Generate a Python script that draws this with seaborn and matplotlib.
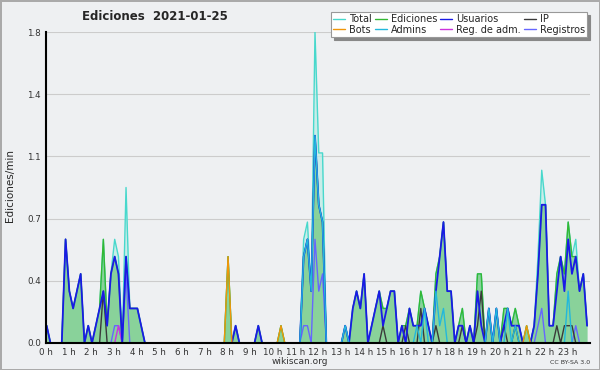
import numpy as np
import pandas as pd
import matplotlib
matplotlib.use("Agg")
import matplotlib.pyplot as plt
import seaborn as sns
from matplotlib.lines import Line2D
from matplotlib.ticker import FixedLocator, MultipleLocator, AutoMinorLocator

# ---------------------------------------------------------------
# Edits per minute, 10-minute bins (24 bins = 4 hours per row)
# ---------------------------------------------------------------
total = [
    0.1, 0, 0, 0, 0, 0.6, 0.3, 0.2, 0.3, 0.4, 0, 0.1, 0, 0.1, 0.2, 0.6, 0.1, 0.4, 0.6, 0.5, 0, 0.9, 0.2, 0.2,
    0.2, 0.1, 0, 0, 0, 0, 0, 0, 0, 0, 0, 0, 0, 0, 0, 0, 0, 0, 0, 0, 0, 0, 0, 0,
    0.5, 0, 0.1, 0, 0, 0, 0, 0, 0.1, 0, 0, 0, 0, 0, 0.1, 0, 0, 0, 0, 0, 0.6, 0.7, 0.3, 1.8,
    1.1, 1.1, 0, 0, 0, 0, 0, 0.1, 0, 0.2, 0.3, 0.2, 0.4, 0, 0.1, 0.2, 0.3, 0.2, 0.2, 0.3, 0.3, 0, 0.1, 0.1,
    0.2, 0.1, 0.1, 0.3, 0.2, 0.1, 0, 0.4, 0.5, 0.7, 0.3, 0.3, 0, 0.1, 0.2, 0, 0.1, 0, 0.4, 0.4, 0, 0.2, 0, 0.2,
    0, 0.2, 0.2, 0.1, 0.2, 0.1, 0, 0.1, 0, 0.1, 0.5, 1.0, 0.8, 0.1, 0.1, 0.4, 0.5, 0.4, 0.7, 0.5, 0.6, 0.3, 0.4, 0.1,
]
ediciones = [
    0.1, 0, 0, 0, 0, 0.6, 0.3, 0.2, 0.3, 0.4, 0, 0.1, 0, 0.1, 0.2, 0.6, 0.1, 0.4, 0.5, 0.4, 0, 0.5, 0.2, 0.2,
    0.2, 0.1, 0, 0, 0, 0, 0, 0, 0, 0, 0, 0, 0, 0, 0, 0, 0, 0, 0, 0, 0, 0, 0, 0,
    0.5, 0, 0.1, 0, 0, 0, 0, 0, 0.1, 0, 0, 0, 0, 0, 0.1, 0, 0, 0, 0, 0, 0.5, 0.6, 0.3, 1.2,
    0.8, 0.7, 0, 0, 0, 0, 0, 0.1, 0, 0.2, 0.3, 0.2, 0.4, 0, 0.1, 0.2, 0.3, 0.2, 0.2, 0.3, 0.3, 0, 0.1, 0.1,
    0.2, 0.1, 0.1, 0.3, 0.2, 0.1, 0, 0.4, 0.5, 0.7, 0.3, 0.3, 0, 0.1, 0.2, 0, 0.1, 0, 0.4, 0.4, 0, 0.2, 0, 0.2,
    0, 0.2, 0.2, 0.1, 0.2, 0.1, 0, 0.1, 0, 0.1, 0.4, 0.8, 0.8, 0.1, 0.1, 0.4, 0.5, 0.4, 0.7, 0.5, 0.5, 0.3, 0.4, 0.1,
]
usuarios = [
    0.1, 0, 0, 0, 0, 0.6, 0.3, 0.2, 0.3, 0.4, 0, 0.1, 0, 0.1, 0.2, 0.3, 0.1, 0.4, 0.5, 0.4, 0, 0.5, 0.2, 0.2,
    0.2, 0.1, 0, 0, 0, 0, 0, 0, 0, 0, 0, 0, 0, 0, 0, 0, 0, 0, 0, 0, 0, 0, 0, 0,
    0, 0, 0.1, 0, 0, 0, 0, 0, 0.1, 0, 0, 0, 0, 0, 0, 0, 0, 0, 0, 0, 0.5, 0.6, 0.3, 1.2,
    0.8, 0.7, 0, 0, 0, 0, 0, 0.1, 0, 0.2, 0.3, 0.2, 0.4, 0, 0.1, 0.2, 0.3, 0.1, 0.2, 0.3, 0.3, 0, 0.1, 0,
    0.2, 0.1, 0.1, 0.1, 0.2, 0.1, 0, 0.3, 0.5, 0.7, 0.3, 0.3, 0, 0.1, 0.1, 0, 0.1, 0, 0.3, 0.1, 0, 0.2, 0, 0.2,
    0, 0.1, 0.2, 0.1, 0.1, 0.1, 0, 0, 0, 0.1, 0.4, 0.8, 0.8, 0.1, 0.1, 0.3, 0.5, 0.3, 0.6, 0.4, 0.5, 0.3, 0.4, 0.1,
]
ip = [
    0, 0, 0, 0, 0, 0, 0, 0, 0, 0, 0, 0, 0, 0, 0, 0.3, 0, 0, 0, 0, 0, 0, 0, 0,
    0, 0, 0, 0, 0, 0, 0, 0, 0, 0, 0, 0, 0, 0, 0, 0, 0, 0, 0, 0, 0, 0, 0, 0,
    0, 0, 0, 0, 0, 0, 0, 0, 0, 0, 0, 0, 0, 0, 0, 0, 0, 0, 0, 0, 0, 0, 0, 0,
    0, 0, 0, 0, 0, 0, 0, 0, 0, 0, 0, 0, 0, 0, 0, 0, 0, 0.1, 0, 0, 0, 0, 0, 0.1,
    0, 0, 0, 0.2, 0, 0, 0, 0.1, 0, 0, 0, 0, 0, 0, 0.1, 0, 0, 0, 0.1, 0.3, 0, 0, 0, 0,
    0, 0.1, 0, 0, 0.1, 0, 0, 0, 0, 0, 0, 0, 0, 0, 0, 0.1, 0, 0.1, 0.1, 0.1, 0, 0, 0, 0,
]
bots = [
    0, 0, 0, 0, 0, 0, 0, 0, 0, 0, 0, 0, 0, 0, 0, 0, 0, 0, 0, 0, 0, 0, 0, 0,
    0, 0, 0, 0, 0, 0, 0, 0, 0, 0, 0, 0, 0, 0, 0, 0, 0, 0, 0, 0, 0, 0, 0, 0,
    0.5, 0, 0, 0, 0, 0, 0, 0, 0, 0, 0, 0, 0, 0, 0.1, 0, 0, 0, 0, 0, 0, 0, 0, 0,
    0, 0, 0, 0, 0, 0, 0, 0, 0, 0, 0, 0, 0, 0, 0, 0, 0, 0, 0, 0, 0, 0, 0, 0,
    0, 0, 0, 0, 0, 0, 0, 0, 0, 0, 0, 0, 0, 0, 0, 0, 0, 0, 0, 0, 0, 0, 0, 0,
    0, 0, 0, 0, 0, 0, 0, 0.1, 0, 0, 0, 0, 0, 0, 0, 0, 0, 0, 0, 0, 0, 0, 0, 0,
]
admins = [
    0, 0, 0, 0, 0, 0, 0, 0, 0, 0, 0, 0, 0, 0, 0, 0, 0, 0, 0, 0, 0, 0, 0, 0,
    0, 0, 0, 0, 0, 0, 0, 0, 0, 0, 0, 0, 0, 0, 0, 0, 0, 0, 0, 0, 0, 0, 0, 0,
    0, 0, 0, 0, 0, 0, 0, 0, 0, 0, 0, 0, 0, 0, 0, 0, 0, 0, 0, 0, 0.5, 0.6, 0.3, 1.2,
    0.8, 0.7, 0, 0, 0, 0, 0, 0.1, 0, 0, 0, 0, 0, 0, 0, 0, 0, 0, 0, 0, 0, 0, 0, 0,
    0, 0, 0.1, 0, 0.2, 0, 0, 0.3, 0.1, 0.2, 0, 0, 0, 0, 0, 0, 0, 0, 0, 0, 0, 0.2, 0, 0.2,
    0, 0, 0.2, 0, 0.1, 0, 0, 0, 0, 0, 0, 0, 0, 0, 0, 0, 0, 0, 0.3, 0, 0, 0, 0, 0,
]
reg_adm = [
    0, 0, 0, 0, 0, 0, 0, 0, 0, 0, 0, 0, 0, 0, 0, 0, 0, 0, 0, 0.1, 0, 0, 0, 0,
    0, 0, 0, 0, 0, 0, 0, 0, 0, 0, 0, 0, 0, 0, 0, 0, 0, 0, 0, 0, 0, 0, 0, 0,
    0, 0, 0, 0, 0, 0, 0, 0, 0, 0, 0, 0, 0, 0, 0, 0, 0, 0, 0, 0, 0, 0, 0, 0,
    0, 0, 0, 0, 0, 0, 0, 0, 0, 0, 0, 0, 0, 0, 0, 0, 0, 0, 0, 0, 0, 0, 0, 0,
    0, 0, 0, 0, 0, 0, 0, 0, 0, 0, 0, 0, 0, 0, 0, 0, 0, 0, 0, 0, 0, 0, 0, 0,
    0, 0, 0, 0, 0, 0, 0, 0, 0, 0, 0, 0, 0, 0, 0, 0, 0, 0, 0, 0, 0, 0, 0, 0,
]
registros = [
    0, 0, 0, 0, 0, 0, 0, 0, 0, 0, 0, 0, 0, 0, 0, 0, 0, 0, 0.1, 0.1, 0, 0.4, 0, 0,
    0, 0, 0, 0, 0, 0, 0, 0, 0, 0, 0, 0, 0, 0, 0, 0, 0, 0, 0, 0, 0, 0, 0, 0,
    0, 0, 0, 0, 0, 0, 0, 0, 0, 0, 0, 0, 0, 0, 0, 0, 0, 0, 0, 0, 0.1, 0.1, 0, 0.6,
    0.3, 0.4, 0, 0, 0, 0, 0, 0, 0, 0, 0, 0, 0, 0, 0, 0, 0, 0, 0, 0, 0, 0, 0, 0,
    0, 0, 0, 0, 0, 0, 0, 0, 0, 0, 0, 0, 0, 0, 0, 0, 0, 0, 0, 0, 0, 0, 0, 0,
    0, 0, 0, 0, 0, 0, 0, 0, 0, 0, 0.1, 0.2, 0, 0, 0, 0, 0, 0, 0, 0, 0.1, 0, 0, 0,
]

hour_labels = [f"{h} h" for h in range(24)]
y_ticks = np.linspace(0, 1.8, 6)

# bin start times in hours (10 minute bins)
hours = (np.arange(len(total)) + 0.25) / 6

BG = "#eef0f2"
colors = {
    "Total": "#48d8cc",
    "Ediciones": "#33b833",
    "Usuarios": "#1a1ae6",
    "IP": "#3a3a3a",
    "Bots": "#f0960a",
    "Admins": "#22b8dc",
    "Reg. de adm.": "#cc33dd",
    "Registros": "#6666ff",
}

sns.set_style("white", {"axes.facecolor": BG, "figure.facecolor": BG})
plt.rcParams["font.family"] = ["DejaVu Sans"]

fig = plt.figure(figsize=(6, 3.7), dpi=100, facecolor=BG)
ax = fig.add_axes([0.0762, 0.073, 0.907, 0.8405])
ax.set_facecolor(BG)

# filled areas
ax.fill_between(hours, total, color="#b8ece6", alpha=0.7, lw=0, zorder=1)
ax.fill_between(hours, ediciones, color="#4cb84c", alpha=0.5, lw=0, zorder=2)

series = [
    ("Total", total, 1.0),
    ("Ediciones", ediciones, 1.0),
    ("Registros", registros, 1.0),
    ("Reg. de adm.", reg_adm, 1.0),
    ("IP", ip, 1.0),
    ("Usuarios", usuarios, 1.3),
    ("Admins", admins, 1.0),
    ("Bots", bots, 1.0),
]
for name, vals, lw in series:
    sns.lineplot(x=hours, y=vals, ax=ax, color=colors[name], lw=lw, zorder=3)

ax.set_xlim(0, 24)
ax.set_ylim(0, 1.8)
ax.xaxis.set_major_locator(FixedLocator(range(24)))
ax.set_xticklabels(hour_labels)
ax.xaxis.set_minor_locator(MultipleLocator(1 / 6))
ax.yaxis.set_major_locator(FixedLocator(y_ticks))
ax.set_yticklabels([f"{v:.1f}" for v in y_ticks])
ax.yaxis.set_minor_locator(AutoMinorLocator(4))
ax.grid(axis="y", which="major", color="#cccccc", lw=0.8, zorder=0)
ax.set_axisbelow(True)
ax.tick_params(which="major", direction="out", length=3, width=1, labelsize=6.3,
               pad=0.5, colors="black", labelcolor="#333333")
ax.tick_params(which="minor", direction="out", length=2.5, width=1, colors="black")
ax.set_xlabel("")
ax.set_ylabel("")
for side in ["top", "right"]:
    ax.spines[side].set_visible(False)
for side in ["left", "bottom"]:
    ax.spines[side].set_color("black")
    ax.spines[side].set_linewidth(1.5)
    ax.spines[side].set_zorder(5)

# legend (row-wise order packed into 4 columns)
order = ["Total", "Bots", "Ediciones", "Admins", "Usuarios", "Reg. de adm.", "IP", "Registros"]
handles = [Line2D([], [], color=colors[n], lw=1) for n in order]
leg = fig.legend(handles, order, ncol=4, loc="upper right",
                 bbox_to_anchor=(592 / 600, 1 - 7 / 370),
                 fontsize=7, frameon=True, fancybox=False,
                 shadow={"color": "#888888", "alpha": 1, "ox": 2.2, "oy": -2.2},
                 edgecolor="#999999", facecolor="white", framealpha=1,
                 handlelength=1.2, handletextpad=0.4, columnspacing=0.35,
                 labelspacing=0.05, borderpad=0.25)
leg.get_frame().set_linewidth(0.8)

fig.text(155 / 600, 1 - 17 / 370, "Ediciones  2021-01-25", ha="center", va="center",
         fontsize=8.5, fontweight="bold")
fig.text(10 / 600, 0.5, "Ediciones/min", rotation=90, ha="center", va="center", fontsize=7.5)
fig.text(300 / 600, 1 - 362 / 370, "wikiscan.org", ha="center", va="center",
         fontsize=6.5, color="#333333")
fig.text(590 / 600, 1 - 363 / 370, "CC BY-SA 3.0", ha="right", va="center",
         fontsize=4.5, color="#333333")

fig.patch.set_edgecolor("#aaaaaa")
fig.patch.set_linewidth(2)
fig.savefig("out.png", dpi=100, facecolor=fig.get_facecolor(), edgecolor=fig.get_edgecolor())
plt.close(fig)
